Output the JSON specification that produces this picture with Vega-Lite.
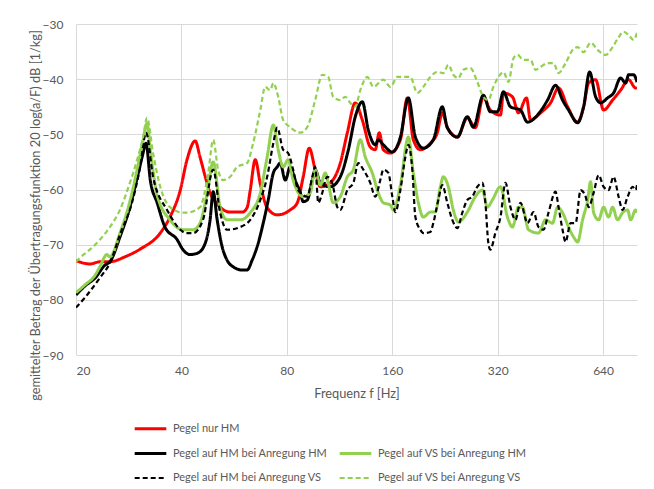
{
"$schema": "https://vega.github.io/schema/vega-lite/v6.json",
"width": 561, "height": 331,
"autosize": {"type": "none"},
"padding": {"left": 76, "top": 24, "right": 17, "bottom": 134},
"background": "white",
"config": {
 "font": "Lato",
 "view": {"stroke": null},
 "axis": {"labelFont": "Lato", "labelFontSize": 12, "labelColor": "#595959", "titleFont": "Lato", "titleFontSize": 12.8, "titleFontWeight": "normal", "titleColor": "#595959", "gridColor": "#d9d9d9", "gridWidth": 1, "ticks": false, "domain": false}
},
"data": {"values": [
{"s":"A","f":20,"v":-72.9},{"s":"A","f":21.9,"v":-73.5},{"s":"A","f":23.4,"v":-73.1},{"s":"A","f":25.0,"v":-73.1},{"s":"A","f":27.6,"v":-72.2},{"s":"A","f":30.5,"v":-70.8},{"s":"A","f":34.8,"v":-67.9},{"s":"A","f":37.1,"v":-65.0},{"s":"A","f":39.7,"v":-60.1},{"s":"A","f":41.5,"v":-54.6},{"s":"A","f":43.8,"v":-51.2},{"s":"A","f":45.2,"v":-54.1},{"s":"A","f":46.8,"v":-57.7},{"s":"A","f":48.3,"v":-60.6},{"s":"A","f":50.6,"v":-62.6},{"s":"A","f":55.1,"v":-64.1},{"s":"A","f":59.7,"v":-64.1},{"s":"A","f":61.6,"v":-63.3},{"s":"A","f":62.9,"v":-60.1},{"s":"A","f":65.0,"v":-54.6},{"s":"A","f":67.2,"v":-59.0},{"s":"A","f":70.3,"v":-63.3},{"s":"A","f":75.1,"v":-64.6},{"s":"A","f":81.8,"v":-63.7},{"s":"A","f":85.7,"v":-62.4},{"s":"A","f":89.1,"v":-57.7},{"s":"A","f":92.7,"v":-52.5},{"s":"A","f":96.4,"v":-56.4},{"s":"A","f":99.7,"v":-59.5},{"s":"A","f":106.4,"v":-58.8},{"s":"A","f":113.7,"v":-55.2},{"s":"A","f":119.1,"v":-49.7},{"s":"A","f":125.5,"v":-44.3},{"s":"A","f":131.4,"v":-47.4},{"s":"A","f":138.5,"v":-52.3},{"s":"A","f":143.1,"v":-52.8},{"s":"A","f":146.9,"v":-49.7},{"s":"A","f":150.9,"v":-52.8},{"s":"A","f":158.0,"v":-53.4},{"s":"A","f":168.8,"v":-51.0},{"s":"A","f":176.7,"v":-43.4},{"s":"A","f":183.8,"v":-51.0},{"s":"A","f":192.5,"v":-52.8},{"s":"A","f":205.5,"v":-51.6},{"s":"A","f":215.2,"v":-49.7},{"s":"A","f":222.4,"v":-46.1},{"s":"A","f":229.8,"v":-48.7},{"s":"A","f":245.5,"v":-50.5},{"s":"A","f":262.1,"v":-47.0},{"s":"A","f":276.3,"v":-48.8},{"s":"A","f":291.3,"v":-43.2},{"s":"A","f":305.0,"v":-45.6},{"s":"A","f":326.0,"v":-46.5},{"s":"A","f":332.4,"v":-42.5},{"s":"A","f":352.7,"v":-43.2},{"s":"A","f":366.9,"v":-46.1},{"s":"A","f":386.8,"v":-43.4},{"s":"A","f":397.2,"v":-47.4},{"s":"A","f":424.2,"v":-46.1},{"s":"A","f":453.1,"v":-44.3},{"s":"A","f":477.6,"v":-41.6},{"s":"A","f":506.8,"v":-45.0},{"s":"A","f":541.3,"v":-47.8},{"s":"A","f":563.1,"v":-45.0},{"s":"A","f":582.0,"v":-40.7},{"s":"A","f":609.5,"v":-40.1},{"s":"A","f":642.1,"v":-45.6},{"s":"A","f":681.3,"v":-43.8},{"s":"A","f":718.2,"v":-42.0},{"s":"A","f":757.1,"v":-40.1},{"s":"A","f":792.9,"v":-41.6},{"s":"A","f":800,"v":-41.5},
{"s":"B","f":20,"v":-79.1},{"s":"B","f":21.2,"v":-77.5},{"s":"B","f":22.7,"v":-76.0},{"s":"B","f":24.2,"v":-73.7},{"s":"B","f":25.0,"v":-73.1},{"s":"B","f":26.7,"v":-68.6},{"s":"B","f":28.5,"v":-63.2},{"s":"B","f":29.9,"v":-57.9},{"s":"B","f":30.9,"v":-54.1},{"s":"B","f":31.7,"v":-51.6},{"s":"B","f":32.6,"v":-58.3},{"s":"B","f":34.1,"v":-62.4},{"s":"B","f":35.9,"v":-66.8},{"s":"B","f":38.9,"v":-69.1},{"s":"B","f":40.4,"v":-70.9},{"s":"B","f":42.4,"v":-71.8},{"s":"B","f":44.6,"v":-71.5},{"s":"B","f":46.8,"v":-69.7},{"s":"B","f":48.3,"v":-65.5},{"s":"B","f":49.3,"v":-60.4},{"s":"B","f":50.6,"v":-65.5},{"s":"B","f":52.3,"v":-70.4},{"s":"B","f":54.0,"v":-72.8},{"s":"B","f":56.2,"v":-74.0},{"s":"B","f":59.7,"v":-74.6},{"s":"B","f":61.6,"v":-74.6},{"s":"B","f":63.7,"v":-72.8},{"s":"B","f":66.3,"v":-69.7},{"s":"B","f":68.5,"v":-66.1},{"s":"B","f":70.8,"v":-61.9},{"s":"B","f":73.2,"v":-57.0},{"s":"B","f":75.1,"v":-55.9},{"s":"B","f":76.6,"v":-55.2},{"s":"B","f":79.2,"v":-58.3},{"s":"B","f":81.8,"v":-55.9},{"s":"B","f":84.5,"v":-58.3},{"s":"B","f":87.4,"v":-60.6},{"s":"B","f":89.1,"v":-62.2},{"s":"B","f":91.5,"v":-61.9},{"s":"B","f":94.6,"v":-58.3},{"s":"B","f":96.4,"v":-56.4},{"s":"B","f":99.7,"v":-58.8},{"s":"B","f":106.4,"v":-59.5},{"s":"B","f":113.7,"v":-57.7},{"s":"B","f":119.9,"v":-52.8},{"s":"B","f":125.5,"v":-46.8},{"s":"B","f":131.4,"v":-44.1},{"s":"B","f":136.7,"v":-49.2},{"s":"B","f":143.1,"v":-51.9},{"s":"B","f":146.0,"v":-51.0},{"s":"B","f":150.9,"v":-51.9},{"s":"B","f":160.1,"v":-53.2},{"s":"B","f":168.8,"v":-50.5},{"s":"B","f":177.9,"v":-43.4},{"s":"B","f":186.3,"v":-50.5},{"s":"B","f":196.3,"v":-52.5},{"s":"B","f":209.6,"v":-51.0},{"s":"B","f":222.4,"v":-45.0},{"s":"B","f":229.8,"v":-48.8},{"s":"B","f":245.5,"v":-50.5},{"s":"B","f":262.1,"v":-46.8},{"s":"B","f":272.7,"v":-48.7},{"s":"B","f":291.3,"v":-42.9},{"s":"B","f":305.0,"v":-45.9},{"s":"B","f":319.6,"v":-45.9},{"s":"B","f":332.4,"v":-42.3},{"s":"B","f":348.1,"v":-45.0},{"s":"B","f":371.8,"v":-45.6},{"s":"B","f":389.4,"v":-47.8},{"s":"B","f":415.9,"v":-46.5},{"s":"B","f":444.2,"v":-43.8},{"s":"B","f":468.3,"v":-41.1},{"s":"B","f":490.3,"v":-43.8},{"s":"B","f":510.1,"v":-45.6},{"s":"B","f":541.3,"v":-47.9},{"s":"B","f":563.1,"v":-45.0},{"s":"B","f":585.9,"v":-38.7},{"s":"B","f":609.5,"v":-43.2},{"s":"B","f":630.0,"v":-44.3},{"s":"B","f":659.3,"v":-43.4},{"s":"B","f":685.8,"v":-42.5},{"s":"B","f":718.2,"v":-39.8},{"s":"B","f":742.3,"v":-40.7},{"s":"B","f":757.1,"v":-39.2},{"s":"B","f":782.5,"v":-39.2},{"s":"B","f":800,"v":-40.5},
{"s":"C","f":20,"v":-78.7},{"s":"C","f":21.2,"v":-77.3},{"s":"C","f":22.7,"v":-75.5},{"s":"C","f":23.4,"v":-74.0},{"s":"C","f":24.5,"v":-71.8},{"s":"C","f":25.0,"v":-72.2},{"s":"C","f":26.7,"v":-67.9},{"s":"C","f":28.5,"v":-62.2},{"s":"C","f":30.1,"v":-55.5},{"s":"C","f":31.1,"v":-51.0},{"s":"C","f":31.9,"v":-48.0},{"s":"C","f":32.6,"v":-52.8},{"s":"C","f":34.1,"v":-61.0},{"s":"C","f":37.1,"v":-65.5},{"s":"C","f":40.4,"v":-67.3},{"s":"C","f":43.2,"v":-67.3},{"s":"C","f":45.2,"v":-66.1},{"s":"C","f":47.4,"v":-60.6},{"s":"C","f":49.3,"v":-55.0},{"s":"C","f":51.6,"v":-63.2},{"s":"C","f":54.0,"v":-65.5},{"s":"C","f":58.9,"v":-65.5},{"s":"C","f":62.9,"v":-64.2},{"s":"C","f":67.2,"v":-60.6},{"s":"C","f":70.3,"v":-54.1},{"s":"C","f":73.2,"v":-48.3},{"s":"C","f":75.6,"v":-52.8},{"s":"C","f":78.1,"v":-55.9},{"s":"C","f":80.7,"v":-54.6},{"s":"C","f":83.4,"v":-58.3},{"s":"C","f":89.1,"v":-61.3},{"s":"C","f":93.3,"v":-60.6},{"s":"C","f":96.4,"v":-56.4},{"s":"C","f":99.7,"v":-59.2},{"s":"C","f":103.0,"v":-57.0},{"s":"C","f":105.0,"v":-58.8},{"s":"C","f":108.5,"v":-62.4},{"s":"C","f":113.7,"v":-61.3},{"s":"C","f":119.1,"v":-57.7},{"s":"C","f":123.9,"v":-56.4},{"s":"C","f":129.7,"v":-51.0},{"s":"C","f":134.0,"v":-54.1},{"s":"C","f":140.3,"v":-57.0},{"s":"C","f":146.0,"v":-60.6},{"s":"C","f":150.9,"v":-62.4},{"s":"C","f":158.0,"v":-62.8},{"s":"C","f":161.2,"v":-63.7},{"s":"C","f":168.8,"v":-59.2},{"s":"C","f":177.9,"v":-50.5},{"s":"C","f":183.8,"v":-57.0},{"s":"C","f":190.0,"v":-62.4},{"s":"C","f":196.3,"v":-65.0},{"s":"C","f":205.5,"v":-64.1},{"s":"C","f":212.4,"v":-64.1},{"s":"C","f":219.5,"v":-59.5},{"s":"C","f":223.9,"v":-57.7},{"s":"C","f":231.4,"v":-59.5},{"s":"C","f":239.1,"v":-63.7},{"s":"C","f":247.1,"v":-65.9},{"s":"C","f":262.1,"v":-64.1},{"s":"C","f":276.3,"v":-61.3},{"s":"C","f":289.4,"v":-60.1},{"s":"C","f":299.1,"v":-63.2},{"s":"C","f":309.1,"v":-61.9},{"s":"C","f":326.0,"v":-59.5},{"s":"C","f":341.3,"v":-65.0},{"s":"C","f":352.7,"v":-66.8},{"s":"C","f":366.9,"v":-63.2},{"s":"C","f":376.7,"v":-63.2},{"s":"C","f":392.0,"v":-67.3},{"s":"C","f":418.6,"v":-67.9},{"s":"C","f":438.4,"v":-65.5},{"s":"C","f":459.1,"v":-66.1},{"s":"C","f":474.5,"v":-63.2},{"s":"C","f":490.3,"v":-64.2},{"s":"C","f":510.1,"v":-66.8},{"s":"C","f":527.2,"v":-68.6},{"s":"C","f":541.3,"v":-69.5},{"s":"C","f":559.4,"v":-65.5},{"s":"C","f":578.2,"v":-61.9},{"s":"C","f":589.7,"v":-58.6},{"s":"C","f":601.5,"v":-64.2},{"s":"C","f":621.7,"v":-65.5},{"s":"C","f":642.1,"v":-63.2},{"s":"C","f":663.6,"v":-65.0},{"s":"C","f":681.3,"v":-63.2},{"s":"C","f":704.1,"v":-65.5},{"s":"C","f":727.7,"v":-64.2},{"s":"C","f":752.1,"v":-63.7},{"s":"C","f":767.2,"v":-65.5},{"s":"C","f":792.9,"v":-63.7},{"s":"C","f":800,"v":-64.2},
{"s":"D","f":20,"v":-81.4},{"s":"D","f":21.2,"v":-79.6},{"s":"D","f":23.4,"v":-76.0},{"s":"D","f":25.0,"v":-73.3},{"s":"D","f":26.7,"v":-68.2},{"s":"D","f":28.9,"v":-62.4},{"s":"D","f":30.5,"v":-55.9},{"s":"D","f":31.7,"v":-49.7},{"s":"D","f":33.2,"v":-57.7},{"s":"D","f":36.4,"v":-63.7},{"s":"D","f":41.5,"v":-67.9},{"s":"D","f":43.2,"v":-67.9},{"s":"D","f":46.1,"v":-65.5},{"s":"D","f":49.3,"v":-56.4},{"s":"D","f":51.6,"v":-64.2},{"s":"D","f":54.0,"v":-67.3},{"s":"D","f":58.9,"v":-66.8},{"s":"D","f":62.9,"v":-65.5},{"s":"D","f":67.2,"v":-61.9},{"s":"D","f":70.3,"v":-57.7},{"s":"D","f":73.2,"v":-51.6},{"s":"D","f":75.1,"v":-48.8},{"s":"D","f":78.1,"v":-52.8},{"s":"D","f":80.7,"v":-53.4},{"s":"D","f":83.4,"v":-56.4},{"s":"D","f":86.2,"v":-60.1},{"s":"D","f":91.5,"v":-61.3},{"s":"D","f":94.6,"v":-57.7},{"s":"D","f":96.4,"v":-55.9},{"s":"D","f":98.4,"v":-62.4},{"s":"D","f":101.0,"v":-60.6},{"s":"D","f":104.3,"v":-57.7},{"s":"D","f":107.8,"v":-58.8},{"s":"D","f":111.5,"v":-63.2},{"s":"D","f":113.7,"v":-63.7},{"s":"D","f":119.1,"v":-60.1},{"s":"D","f":123.9,"v":-58.8},{"s":"D","f":128.0,"v":-55.2},{"s":"D","f":132.3,"v":-56.4},{"s":"D","f":138.5,"v":-58.8},{"s":"D","f":143.1,"v":-61.3},{"s":"D","f":147.9,"v":-58.3},{"s":"D","f":150.9,"v":-56.4},{"s":"D","f":156.0,"v":-57.0},{"s":"D","f":160.1,"v":-61.3},{"s":"D","f":163.3,"v":-64.1},{"s":"D","f":168.8,"v":-60.1},{"s":"D","f":174.4,"v":-54.1},{"s":"D","f":177.9,"v":-51.9},{"s":"D","f":182.6,"v":-56.4},{"s":"D","f":186.3,"v":-65.0},{"s":"D","f":192.5,"v":-67.3},{"s":"D","f":196.3,"v":-67.9},{"s":"D","f":205.5,"v":-67.7},{"s":"D","f":209.6,"v":-66.1},{"s":"D","f":216.6,"v":-61.9},{"s":"D","f":222.4,"v":-59.2},{"s":"D","f":229.8,"v":-62.4},{"s":"D","f":237.5,"v":-65.5},{"s":"D","f":245.5,"v":-67.0},{"s":"D","f":253.7,"v":-64.2},{"s":"D","f":262.1,"v":-61.9},{"s":"D","f":270.9,"v":-61.3},{"s":"D","f":280.0,"v":-59.5},{"s":"D","f":289.4,"v":-58.8},{"s":"D","f":295.2,"v":-62.4},{"s":"D","f":301.0,"v":-69.7},{"s":"D","f":305.0,"v":-70.9},{"s":"D","f":315.2,"v":-67.9},{"s":"D","f":326.0,"v":-65.0},{"s":"D","f":336.9,"v":-58.8},{"s":"D","f":348.1,"v":-63.2},{"s":"D","f":359.8,"v":-65.5},{"s":"D","f":371.8,"v":-62.4},{"s":"D","f":389.4,"v":-66.1},{"s":"D","f":405.1,"v":-64.1},{"s":"D","f":418.6,"v":-66.8},{"s":"D","f":432.6,"v":-67.3},{"s":"D","f":447.1,"v":-64.2},{"s":"D","f":468.3,"v":-60.4},{"s":"D","f":477.6,"v":-63.2},{"s":"D","f":490.3,"v":-67.3},{"s":"D","f":500.1,"v":-69.5},{"s":"D","f":516.9,"v":-66.1},{"s":"D","f":534.2,"v":-66.1},{"s":"D","f":552.1,"v":-60.1},{"s":"D","f":570.6,"v":-61.3},{"s":"D","f":582.0,"v":-63.2},{"s":"D","f":601.5,"v":-60.6},{"s":"D","f":621.7,"v":-57.4},{"s":"D","f":642.1,"v":-59.5},{"s":"D","f":663.6,"v":-60.1},{"s":"D","f":685.8,"v":-57.7},{"s":"D","f":708.8,"v":-61.3},{"s":"D","f":727.7,"v":-63.7},{"s":"D","f":752.1,"v":-61.3},{"s":"D","f":777.3,"v":-59.5},{"s":"D","f":792.9,"v":-60.1},{"s":"D","f":800,"v":-59.2},
{"s":"E","f":20,"v":-73.1},{"s":"E","f":20.5,"v":-72.4},{"s":"E","f":21.9,"v":-70.9},{"s":"E","f":23.4,"v":-69.1},{"s":"E","f":25.0,"v":-66.8},{"s":"E","f":26.7,"v":-63.7},{"s":"E","f":28.5,"v":-58.8},{"s":"E","f":29.9,"v":-54.6},{"s":"E","f":31.1,"v":-50.5},{"s":"E","f":31.9,"v":-47.0},{"s":"E","f":33.2,"v":-53.4},{"s":"E","f":34.8,"v":-59.5},{"s":"E","f":37.1,"v":-63.2},{"s":"E","f":40.4,"v":-64.2},{"s":"E","f":41.5,"v":-64.2},{"s":"E","f":45.2,"v":-63.2},{"s":"E","f":47.7,"v":-57.0},{"s":"E","f":49.3,"v":-51.0},{"s":"E","f":50.9,"v":-56.4},{"s":"E","f":52.6,"v":-58.3},{"s":"E","f":55.1,"v":-57.7},{"s":"E","f":57.7,"v":-55.9},{"s":"E","f":61.6,"v":-55.2},{"s":"E","f":64.1,"v":-51.6},{"s":"E","f":67.2,"v":-45.6},{"s":"E","f":69.4,"v":-41.4},{"s":"E","f":71.7,"v":-42.0},{"s":"E","f":73.2,"v":-40.7},{"s":"E","f":75.6,"v":-43.2},{"s":"E","f":78.1,"v":-47.4},{"s":"E","f":81.8,"v":-48.7},{"s":"E","f":87.4,"v":-49.7},{"s":"E","f":91.5,"v":-48.7},{"s":"E","f":96.4,"v":-43.8},{"s":"E","f":101.0,"v":-39.2},{"s":"E","f":105.0,"v":-39.6},{"s":"E","f":108.5,"v":-43.2},{"s":"E","f":113.7,"v":-43.8},{"s":"E","f":117.5,"v":-43.2},{"s":"E","f":121.4,"v":-44.3},{"s":"E","f":125.5,"v":-45.0},{"s":"E","f":129.7,"v":-42.0},{"s":"E","f":135.8,"v":-39.6},{"s":"E","f":141.3,"v":-41.4},{"s":"E","f":150.9,"v":-40.1},{"s":"E","f":158.0,"v":-41.4},{"s":"E","f":165.5,"v":-39.6},{"s":"E","f":172.1,"v":-39.6},{"s":"E","f":180.2,"v":-39.6},{"s":"E","f":188.7,"v":-42.5},{"s":"E","f":196.3,"v":-41.4},{"s":"E","f":205.5,"v":-39.6},{"s":"E","f":215.2,"v":-38.7},{"s":"E","f":223.9,"v":-38.9},{"s":"E","f":231.4,"v":-37.4},{"s":"E","f":239.1,"v":-39.2},{"s":"E","f":247.1,"v":-39.8},{"s":"E","f":255.3,"v":-38.3},{"s":"E","f":267.4,"v":-38.0},{"s":"E","f":280.0,"v":-40.5},{"s":"E","f":291.3,"v":-43.2},{"s":"E","f":301.0,"v":-43.8},{"s":"E","f":311.1,"v":-41.4},{"s":"E","f":321.7,"v":-39.6},{"s":"E","f":332.4,"v":-38.7},{"s":"E","f":343.6,"v":-40.5},{"s":"E","f":355.1,"v":-36.2},{"s":"E","f":364.5,"v":-35.6},{"s":"E","f":379.2,"v":-36.5},{"s":"E","f":397.2,"v":-36.5},{"s":"E","f":410.4,"v":-38.3},{"s":"E","f":424.2,"v":-37.8},{"s":"E","f":444.2,"v":-37.1},{"s":"E","f":462.1,"v":-37.1},{"s":"E","f":477.6,"v":-38.9},{"s":"E","f":500.1,"v":-37.1},{"s":"E","f":523.7,"v":-34.7},{"s":"E","f":541.3,"v":-34.2},{"s":"E","f":563.1,"v":-35.1},{"s":"E","f":589.7,"v":-33.4},{"s":"E","f":617.6,"v":-34.7},{"s":"E","f":650.6,"v":-35.6},{"s":"E","f":681.3,"v":-34.2},{"s":"E","f":708.8,"v":-32.4},{"s":"E","f":732.5,"v":-31.4},{"s":"E","f":757.1,"v":-32.0},{"s":"E","f":782.5,"v":-32.9},{"s":"E","f":800,"v":-31.6}
]},
"mark": {"type": "line", "interpolate": "monotone", "strokeJoin": "round", "clip": true},
"encoding": {
 "x": {"field": "f", "type": "quantitative", "scale": {"type": "log", "base": 2, "domain": [20, 800], "nice": false},
   "axis": {"values": [20, 40, 80, 160, 320, 640], "format": "d", "title": "Frequenz f [Hz]", "labelPadding": 10, "titlePadding": 11, "grid": true}},
 "y": {"field": "v", "type": "quantitative", "scale": {"domain": [-90, -30], "nice": false},
   "axis": {"values": [-90, -80, -70, -60, -50, -40, -30], "title": "gemittelter Betrag der Übertragungsfunktion 20 log(a/F) dB [1/kg]", "labelPadding": 13, "titleX": -34, "titleY": 191, "grid": true}},
 "color": {"field": "s", "type": "nominal",
   "scale": {"domain": ["A", "_", "B", "C", "D", "E"], "range": ["#ff0000", "transparent", "#000000", "#92d050", "#000000", "#92d050"]},
   "legend": {"orient": "none", "direction": "horizontal", "legendX": 57, "legendY": 387, "columns": 2, "title": null, "symbolType": "stroke", "symbolSize": 1000, "symbolStrokeWidth": 2.5, "labelFont": "Lato", "labelFontSize": 11, "labelColor": "#595959", "labelOffset": 5, "labelLimit": 0, "rowPadding": 1, "columnPadding": 5,
     "labelExpr": "datum.label == 'A' ? 'Pegel nur HM' : datum.label == 'B' ? 'Pegel auf HM bei Anregung HM' : datum.label == 'C' ? 'Pegel auf VS bei Anregung HM' : datum.label == 'D' ? 'Pegel auf HM bei Anregung VS' : datum.label == 'E' ? 'Pegel auf VS bei Anregung VS' : ''"}},
 "strokeDash": {"field": "s", "type": "nominal",
   "scale": {"domain": ["A", "_", "B", "C", "D", "E"], "range": [[1, 0], [1, 0], [1, 0], [1, 0], [5, 3], [5, 3]]},
   "legend": {"orient": "none", "direction": "horizontal", "legendX": 57, "legendY": 387, "columns": 2, "title": null, "symbolType": "stroke", "symbolSize": 1000, "symbolStrokeWidth": 2.5, "labelFont": "Lato", "labelFontSize": 11, "labelColor": "#595959", "labelOffset": 5, "labelLimit": 0, "rowPadding": 1, "columnPadding": 5,
     "labelExpr": "datum.label == 'A' ? 'Pegel nur HM' : datum.label == 'B' ? 'Pegel auf HM bei Anregung HM' : datum.label == 'C' ? 'Pegel auf VS bei Anregung HM' : datum.label == 'D' ? 'Pegel auf HM bei Anregung VS' : datum.label == 'E' ? 'Pegel auf VS bei Anregung VS' : ''"}},
 "strokeWidth": {"field": "s", "type": "nominal", "scale": {"type": "ordinal", "domain": ["A", "_", "B", "C", "D", "E"], "range": [3, 1, 3, 3, 2.2, 2.2]}, "legend": null}
}
}
